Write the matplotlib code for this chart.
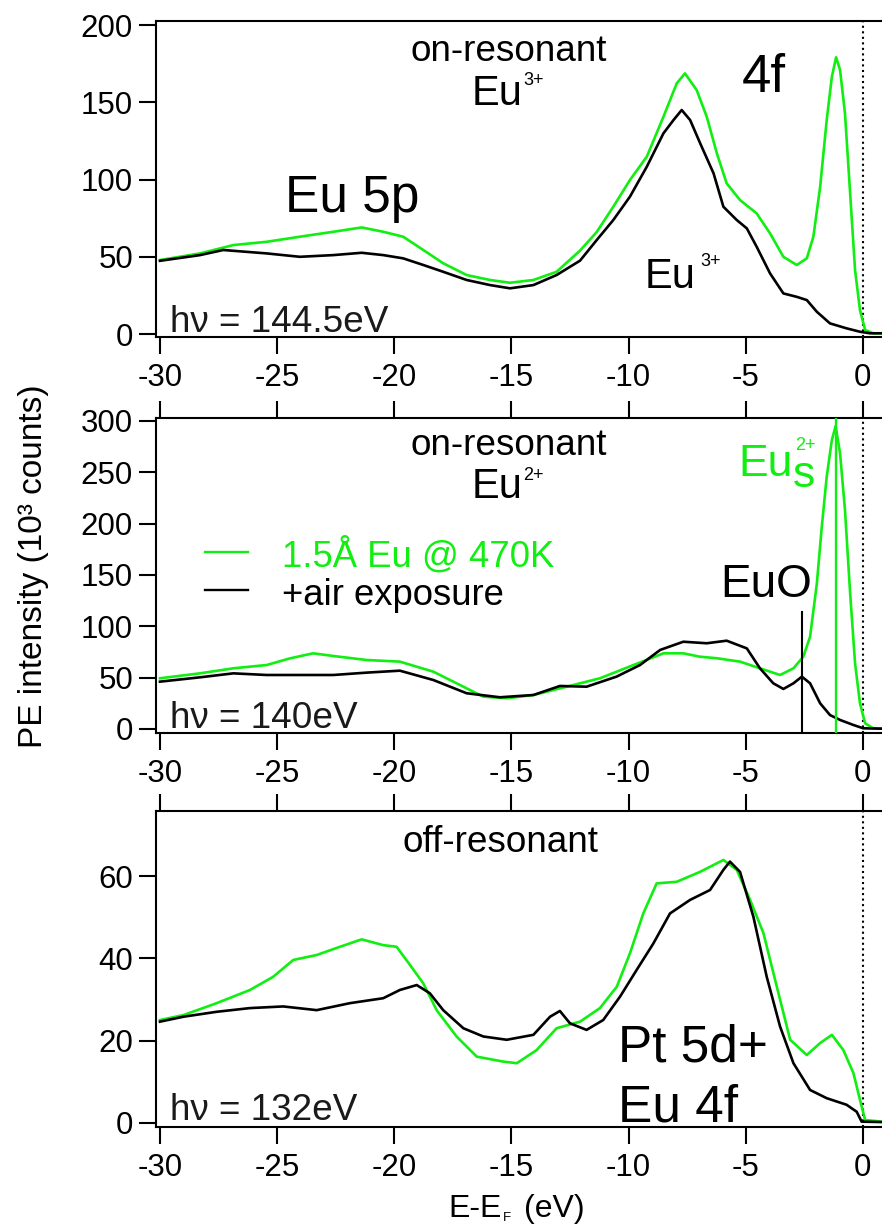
import matplotlib
matplotlib.use("Agg")
import matplotlib.pyplot as plt

plt.rcParams['font.family'] = ['Liberation Sans', 'DejaVu Sans']
plt.rcParams['axes.unicode_minus'] = False

GREEN = '#11ee11'

# ---- spectra: binding energy E-E_F (eV) and PE intensity (10^3 counts) ----
# panel 1: hv = 144.5 eV (Eu3+ resonance)
e1_clean = [-30.0, -28.29, -26.87, -25.45, -24.03, -22.60, -21.39, -20.47, -19.62, -18.76,
            -17.91, -16.91, -15.91, -15.06, -14.06, -13.07, -12.07, -11.36, -10.65, -9.94,
            -9.22, -8.51, -7.94, -7.59, -7.09, -6.66, -6.23, -5.81, -5.24, -4.53,
            -3.96, -3.39, -2.82, -2.39, -2.11, -1.82, -1.54, -1.32, -1.14, -0.97,
            -0.76, -0.54, -0.33, -0.12, 0.10, 0.45, 0.82]
i1_clean = [47.9, 52.2, 57.6, 59.7, 63.0, 66.2, 69.0, 66.2, 63.0, 54.4,
            45.8, 38.2, 35.0, 33.2, 35.0, 40.3, 54.0, 66.0, 82.4, 99.7,
            114.8, 140.6, 162.3, 168.7, 157.9, 140.6, 117.0, 97.5, 86.7, 78.1,
            65.2, 50.0, 44.7, 49.0, 63.0, 95.3, 138.5, 166.5, 179.1, 170.9,
            142.8, 91.0, 41.4, 15.5, 2.6, 0.5, 0.5]
e1_air = [-30.0, -28.29, -27.30, -25.45, -24.03, -22.60, -21.39, -20.47, -19.62, -18.76,
          -17.91, -16.91, -15.91, -15.06, -14.06, -13.07, -12.07, -11.36, -10.65, -9.94,
          -9.22, -8.51, -8.08, -7.73, -7.37, -6.94, -6.37, -5.95, -5.38, -4.95,
          -4.53, -3.96, -3.39, -2.82, -2.39, -1.96, -1.40, -0.69, -0.12, 0.31, 0.82]
i1_air = [47.4, 51.1, 54.4, 52.2, 50.0, 51.1, 52.6, 51.1, 49.0, 44.7,
          40.3, 35.0, 31.7, 29.6, 31.7, 38.2, 47.5, 60.8, 73.8, 88.9,
          108.3, 129.9, 138.5, 145.0, 138.5, 123.4, 104.0, 82.4, 73.8, 68.4,
          56.5, 39.3, 26.3, 24.1, 22.0, 14.4, 6.9, 3.7, 1.5, 0.5, 0.5]

# panel 2: hv = 140 eV (Eu2+ resonance)
e2_clean = [-30.0, -28.30, -26.87, -25.45, -24.45, -23.46, -22.60, -21.18, -19.76, -18.33,
            -16.91, -16.20, -15.20, -14.06, -12.64, -11.22, -9.79, -8.51, -7.66, -6.95,
            -6.23, -5.24, -4.39, -3.53, -2.96, -2.54, -2.25, -1.96, -1.75, -1.54,
            -1.32, -1.16, -0.97, -0.76, -0.54, -0.33, -0.12, 0.10, 0.45, 0.82]
i2_clean = [49.4, 54.2, 59.1, 62.3, 68.8, 73.7, 71.1, 67.2, 65.6, 55.8,
            39.6, 31.5, 29.9, 33.1, 41.2, 49.4, 62.3, 73.7, 73.7, 70.4,
            68.9, 65.6, 59.1, 52.6, 59.1, 70.4, 89.9, 141.9, 197.0, 245.7,
            281.5, 295.0, 268.5, 213.3, 132.2, 64.0, 25.0, 5.5, 0.7, 0.5]
e2_air = [-30.0, -28.30, -26.87, -25.45, -24.03, -22.60, -21.18, -19.76, -18.33, -16.91,
          -15.49, -14.06, -12.93, -11.79, -10.51, -9.51, -8.65, -7.66, -6.66, -5.81,
          -4.95, -4.39, -3.82, -3.39, -2.96, -2.60, -2.25, -1.82, -1.40, -0.97,
          -0.40, 0.02, 0.82]
i2_air = [46.1, 50.3, 54.2, 52.6, 52.6, 52.6, 54.9, 56.8, 47.7, 34.8,
          30.9, 33.1, 41.9, 41.2, 51.0, 62.3, 77.0, 85.0, 83.5, 86.0,
          78.5, 59.1, 44.5, 39.0, 44.5, 51.0, 44.5, 25.0, 13.6, 8.8,
          3.9, 0.7, 0.3]

# panel 3: hv = 132 eV (off resonance)
e3_clean = [-30.0, -29.0, -27.58, -26.16, -25.17, -24.31, -23.31, -22.32, -21.39, -20.47,
            -19.90, -19.33, -18.76, -18.19, -17.34, -16.48, -15.35, -14.77, -13.92, -13.07,
            -12.07, -11.22, -10.50, -9.94, -9.37, -8.80, -7.94, -6.95, -5.95, -5.38,
            -4.81, -4.24, -3.67, -3.10, -2.39, -1.82, -1.32, -0.83, -0.40, -0.12,
            0.10, 0.82]
i3_clean = [25.0, 26.2, 29.1, 32.3, 35.5, 39.6, 40.8, 42.8, 44.6, 43.2,
            42.8, 38.4, 33.9, 27.4, 21.0, 16.1, 14.9, 14.5, 17.7, 23.0,
            24.6, 27.9, 33.1, 41.2, 50.9, 58.2, 58.6, 61.0, 63.9, 61.5,
            54.2, 46.1, 33.1, 20.2, 16.5, 19.4, 21.4, 17.7, 12.1, 5.6,
            0.7, 0.3]
e3_air = [-30.0, -29.0, -27.58, -26.16, -24.74, -23.31, -21.89, -20.47, -19.76, -19.04,
          -18.48, -17.91, -17.05, -16.20, -15.20, -14.06, -13.35, -12.93, -12.50, -11.79,
          -11.08, -10.36, -9.65, -8.94, -8.23, -7.37, -6.52, -5.95, -5.67, -5.24,
          -4.67, -4.10, -3.53, -2.96, -2.25, -1.54, -0.69, -0.26, -0.05, 0.82]
i3_air = [24.6, 25.8, 27.0, 27.9, 28.3, 27.4, 29.1, 30.3, 32.3, 33.5,
          31.5, 27.4, 23.0, 21.0, 20.2, 21.4, 25.8, 27.2, 24.2, 22.6,
          25.0, 30.7, 37.2, 43.6, 50.9, 54.2, 56.6, 61.5, 63.5, 61.0,
          50.1, 35.5, 23.4, 14.5, 8.0, 6.0, 4.4, 2.7, 0.3, 0.2]

x_ticks = [-30, -25, -20, -15, -10, -5, 0]
y_ticks = [[0, 50, 100, 150, 200], [0, 50, 100, 150, 200, 250, 300], [0, 20, 40, 60]]
y_lims = [(-1.9, 202.6), (-3.9, 302.9), (-1.0, 75.8)]
photon_labels = ['h\u03bd = 144.5eV', 'h\u03bd = 140eV', 'h\u03bd = 132eV']
legend_labels = ['1.5\u00c5 Eu @ 470K', '+air exposure']
eu2s_position = -1.14
euo_position = -2.58

W, H = 882, 1226
fig = plt.figure(figsize=(W / 100, H / 100), dpi=100)

# axes boxes in pixels: (top, bottom)
boxes = [(21, 337), (418, 733), (811, 1127)]
left_px = 156
axes = []
for (top, bot) in boxes:
    ax = fig.add_axes([left_px / W, 1 - bot / H, 1 - left_px / W, (bot - top) / H])
    axes.append(ax)

curves = [(e1_clean, i1_clean, e1_air, i1_air),
          (e2_clean, i2_clean, e2_air, i2_air),
          (e3_clean, i3_clean, e3_air, i3_air)]

for k, ax in enumerate(axes):
    ec, ic, ea, ia = curves[k]
    ax.plot(ec, ic, color=GREEN, lw=1.9, zorder=3)
    ax.plot(ea, ia, color='black', lw=1.9, zorder=4)
    ax.axvline(0, color='black', ls=':', lw=1.5, zorder=2)
    ax.set_xlim(-30.17, 0.82)
    ax.set_ylim(*y_lims[k])
    ax.set_xticks(x_ticks)
    ax.set_yticks(y_ticks[k])
    ax.spines['right'].set_visible(False)
    for s in ['left', 'top', 'bottom']:
        ax.spines[s].set_linewidth(1.5)
    ax.tick_params(axis='both', direction='out', length=12.5, width=1.5,
                   labelsize=22.5, pad=4)
    ax.tick_params(axis='x', pad=6, top=(k > 0))

# vertical markers in the middle panel
axes[1].axvline(eu2s_position, color=GREEN, lw=1.7, zorder=5)
axes[1].plot([euo_position, euo_position], [-3.9, 114], color='black', lw=1.5, zorder=5)


def put(txt, x, y, size, color='black', **kw):
    fig.text(x / W, 1 - y / H, txt, fontsize=size, color=color,
             ha='left', va='baseline', **kw)


# panel 1 annotations
put('on-resonant', 410, 61, 26.6)
put('Eu', 472, 105, 30)
put('3+', 523, 85, 13)
put('Eu 5p', 285, 212, 37)
put('4f', 742, 92, 38)
put('Eu', 645, 288, 30)
put('3+', 700, 266, 13)
put(photon_labels[0], 170, 332, 26.6, color='#1a1a1a')

# panel 2 annotations
put('on-resonant', 410, 455, 26.6)
put('Eu', 472, 498, 30)
put('2+', 523, 480, 13)
put('Eu', 738, 476, 32, color=GREEN)
put('s', 793, 487, 32, color=GREEN)
put('2+', 795, 450, 13, color=GREEN)
put('EuO', 720, 597, 33)
put(photon_labels[1], 170, 728, 26.6, color='#1a1a1a')

# legend
fig.lines.append(plt.Line2D([205 / W, 248 / W], [1 - 552 / H, 1 - 552 / H],
                            color=GREEN, lw=1.7, transform=fig.transFigure))
fig.lines.append(plt.Line2D([205 / W, 248 / W], [1 - 590 / H, 1 - 590 / H],
                            color='black', lw=1.7, transform=fig.transFigure))
put(legend_labels[0], 282, 567, 26.3, color=GREEN)
put(legend_labels[1], 282, 605, 26.3)

# panel 3 annotations
put('off-resonant', 403, 852, 26.6)
put('Pt 5d+', 618, 1062, 37)
put('Eu 4f', 618, 1122, 37)
put(photon_labels[2], 170, 1120, 26.6, color='#1a1a1a')

# axis titles
put('E-E', 448, 1217, 23)
put('F', 503, 1221, 9.5)
put('(eV)', 524, 1217, 23)
fig.text(34 / W, 1 - 566 / H, 'PE intensity (10\u00b3 counts)', fontsize=24,
         rotation=90, ha='center', va='center')

fig.savefig('out.png', dpi=100)
